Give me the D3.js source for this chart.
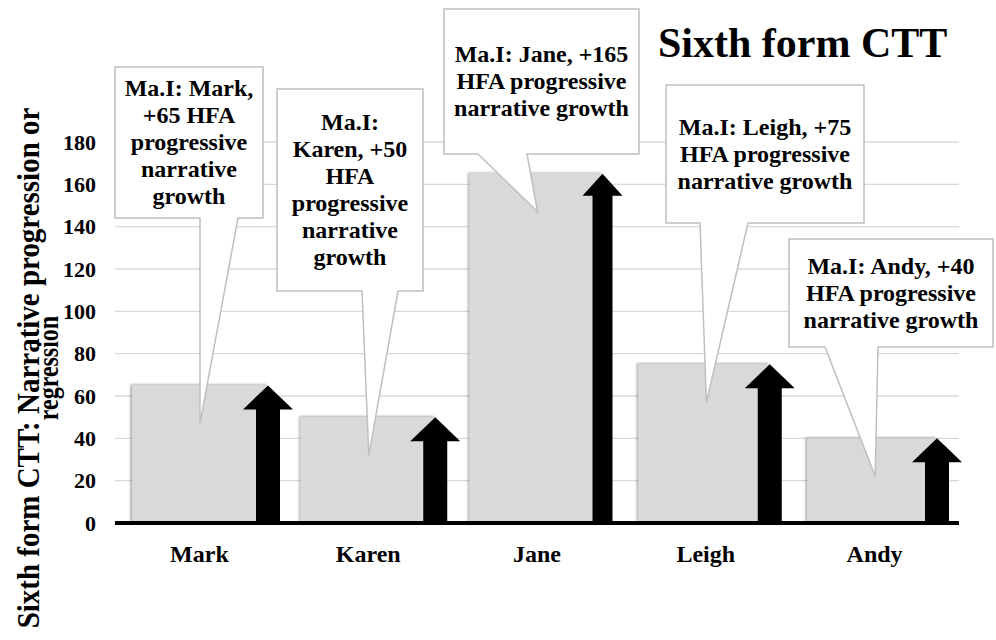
<!DOCTYPE html>
<html>
<head>
<meta charset="utf-8">
<script src="https://cdn.jsdelivr.net/npm/d3@7/dist/d3.min.js"></script>
<style>
  html, body { margin: 0; padding: 0; background: #fff; }
  svg { display: block; }
  text { font-family: "Liberation Serif", "Times New Roman", serif; font-weight: bold; fill: #000; }
</style>
</head>
<body>
<svg id="chart" width="996" height="640"></svg>
<script>
// Students and their narrative growth scores
const categories = ["Mark", "Karen", "Jane", "Leigh", "Andy"];
const values = [65, 50, 165, 75, 40];
const yTicks = [0, 20, 40, 60, 80, 100, 120, 140, 160, 180];

// Callout wording and how many words go on each line
const calloutPrefix = "Ma.I:";
const calloutSuffix = "HFA progressive narrative growth";
const calloutLineBreaks = [[2, 2, 1, 1, 1], [1, 2, 1, 1, 1, 1], [3, 2, 2], [3, 2, 2], [3, 2, 2]];

const chartTitle = "Sixth form CTT";
const axisTitleLines = ["Sixth form CTT: Narrative progression or", "regression"];

const svg = d3.select("#chart");

const x = d3.scaleBand().domain(categories).range([115, 959]).paddingInner(0).paddingOuter(0);
// arrows sit at the right-hand end of each bar
const xArrow = d3.scalePoint().domain(categories).range([268, 937]);
const y = d3.scaleLinear().domain([0, 180]).range([523, 142]);

// soft shadow on the bars
const defs = svg.append("defs");
const f = defs.append("filter").attr("id", "barShadow")
  .attr("x", "-10%").attr("y", "-10%").attr("width", "120%").attr("height", "120%");
f.append("feDropShadow").attr("dx", -1.5).attr("dy", -1).attr("stdDeviation", 1.3)
  .attr("flood-color", "#000").attr("flood-opacity", 0.35);

// gridlines
svg.append("g").selectAll("line")
  .data(yTicks.filter(d => d > 0))
  .join("line")
  .attr("x1", 115).attr("x2", 959)
  .attr("y1", d => y(d)).attr("y2", d => y(d))
  .attr("stroke", "#d9d9d9").attr("stroke-width", 1.3);

const data = categories.map((c, i) => ({ name: c, value: values[i], i }));

const barStart = 17;

// grey bars
svg.append("g").selectAll("rect")
  .data(data)
  .join("rect")
  .attr("x", d => x(d.name) + barStart)
  .attr("y", d => y(d.value))
  .attr("width", d => xArrow(d.name) - x(d.name) - barStart)
  .attr("height", d => y(0) - y(d.value))
  .attr("fill", "#d9d9d9")
  .attr("filter", "url(#barShadow)");

// black upward arrows
function arrowPath(d) {
  const cx = xArrow(d.name);
  const top = y(d.value), base = y(0);
  const narrow = d.name === "Jane";
  const sh = narrow ? 10 : 12, hh = narrow ? 20 : 25, hl = narrow ? 22 : 24;
  return `M${cx},${top} L${cx + hh},${top + hl} L${cx + sh},${top + hl} L${cx + sh},${base} ` +
         `L${cx - sh},${base} L${cx - sh},${top + hl} L${cx - hh},${top + hl} Z`;
}
svg.append("g").selectAll("path")
  .data(data)
  .join("path")
  .attr("d", arrowPath)
  .attr("fill", "#000");

// baseline
svg.append("line")
  .attr("x1", 115).attr("x2", 959)
  .attr("y1", y(0)).attr("y2", y(0))
  .attr("stroke", "#000").attr("stroke-width", 4);

// y axis labels
const yAxis = svg.append("g").attr("transform", "translate(115,0)")
  .call(d3.axisLeft(y).tickValues(yTicks).tickSize(0).tickPadding(19));
yAxis.select(".domain").remove();
yAxis.selectAll("text")
  .style("font-family", "'Liberation Serif', 'Times New Roman', serif")
  .style("font-weight", "bold").style("font-size", "22px").attr("dy", "0.33em");

// x axis labels
const xAxis = svg.append("g").attr("transform", `translate(0,${y(0)})`)
  .call(d3.axisBottom(x).tickSize(0));
xAxis.select(".domain").remove();
xAxis.selectAll("text")
  .style("font-family", "'Liberation Serif', 'Times New Roman', serif")
  .style("font-weight", "bold").style("font-size", "24px")
  .attr("y", 39).attr("dy", 0);

// callouts
const calloutBoxes = [
  { box: [115, 67, 263, 218], tail: [200, 238] },
  { box: [277, 89, 423, 291], tail: [362, 398] },
  { box: [444, 9, 639, 154], tail: [478, 527] },
  { box: [666, 85, 864, 223], tail: [700, 748] },
  { box: [789, 239, 993, 347], tail: [825, 878] }
];
const lineH = 27, fontSize = 24;

data.forEach(d => {
  const L = calloutBoxes[d.i];
  const [x0, y0, x1, y1] = L.box;
  const tipX = x(d.name) + 85, tipY = y(d.value) + 38;
  const g = svg.append("g");
  g.append("path")
    .attr("d", `M${x0},${y0} H${x1} V${y1} H${L.tail[1]} L${tipX},${tipY} L${L.tail[0]},${y1} H${x0} Z`)
    .attr("fill", "#fff").attr("stroke", "#bfbfbf").attr("stroke-width", 1.5);

  const words = `${calloutPrefix} ${d.name}, +${d.value} ${calloutSuffix}`.split(" ");
  const lines = [];
  let k = 0;
  calloutLineBreaks[d.i].forEach(n => { lines.push(words.slice(k, k + n).join(" ")); k += n; });
  const cx = (x0 + x1) / 2, cy = (y0 + y1) / 2;
  g.append("text")
    .attr("text-anchor", "middle")
    .style("font-size", fontSize + "px")
    .selectAll("tspan")
    .data(lines)
    .join("tspan")
    .attr("x", cx)
    .attr("y", (t, j) => cy + (j - (lines.length - 1) / 2) * lineH + 0.33 * fontSize)
    .text(t => t);
});

// chart title
svg.append("text")
  .attr("x", 658).attr("y", 57)
  .style("font-size", "42px")
  .text(chartTitle);

// value axis title (two lines, rotated, glyphs slightly tall)
svg.append("text")
  .attr("transform", "translate(39,368) rotate(-90) scale(1,1.12)")
  .attr("text-anchor", "middle")
  .style("font-size", "29px")
  .text(axisTitleLines[0]);
svg.append("text")
  .attr("transform", "translate(58,368) rotate(-90) scale(1,1.2)")
  .attr("text-anchor", "middle")
  .style("font-size", "24px")
  .text(axisTitleLines[1]);
</script>
</body>
</html>
